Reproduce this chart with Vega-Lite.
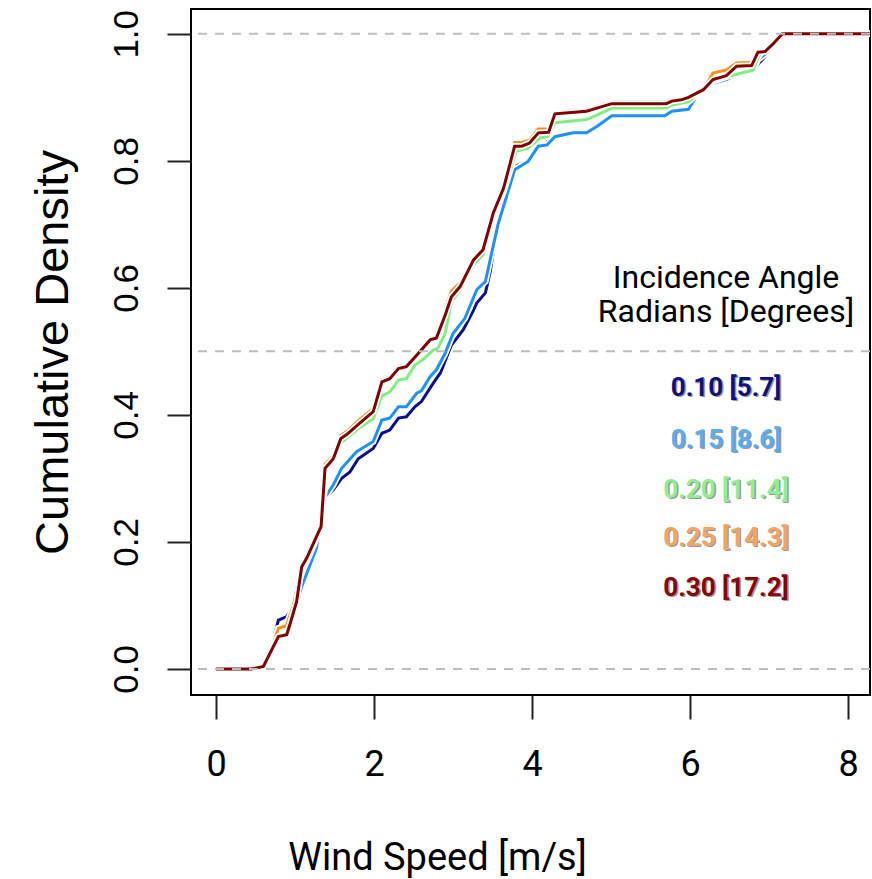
{
"$schema": "https://vega.github.io/schema/vega-lite/v6.json",
"width": 679, "height": 686,
"autosize": "none",
"padding": {"left": 191, "top": 9, "right": 2, "bottom": 184},
"background": "white",
"config": {
  "view": {"stroke": "black", "strokeWidth": 2},
  "axis": {"grid": false, "domain": false, "tickColor": "#222", "tickWidth": 2, "tickSize": 24, "labelColor": "black", "titleColor": "black"}
},
"datasets": {
"cdf": [
{"angle":"0.10","wind":0,"cdf":0},{"angle":"0.10","wind":0.45,"cdf":0},{"angle":"0.10","wind":0.6,"cdf":0.008},{"angle":"0.10","wind":0.68,"cdf":0.025},{"angle":"0.10","wind":0.79,"cdf":0.077},{"angle":"0.10","wind":0.89,"cdf":0.082},{"angle":"0.10","wind":0.98,"cdf":0.098},{"angle":"0.10","wind":1.085,"cdf":0.14},{"angle":"0.10","wind":1.27,"cdf":0.19},{"angle":"0.10","wind":1.38,"cdf":0.269},{"angle":"0.10","wind":1.485,"cdf":0.282},{"angle":"0.10","wind":1.59,"cdf":0.3},{"angle":"0.10","wind":1.695,"cdf":0.31},{"angle":"0.10","wind":1.8,"cdf":0.331},{"angle":"0.10","wind":1.99,"cdf":0.347},{"angle":"0.10","wind":2.1,"cdf":0.371},{"angle":"0.10","wind":2.2,"cdf":0.376},{"angle":"0.10","wind":2.31,"cdf":0.395},{"angle":"0.10","wind":2.41,"cdf":0.397},{"angle":"0.10","wind":2.52,"cdf":0.413},{"angle":"0.10","wind":2.6,"cdf":0.421},{"angle":"0.10","wind":2.75,"cdf":0.45},{"angle":"0.10","wind":2.84,"cdf":0.466},{"angle":"0.10","wind":2.98,"cdf":0.51},{"angle":"0.10","wind":3.13,"cdf":0.534},{"angle":"0.10","wind":3.26,"cdf":0.565},{"angle":"0.10","wind":3.3,"cdf":0.576},{"angle":"0.10","wind":3.41,"cdf":0.592},{"angle":"0.10","wind":3.47,"cdf":0.625},{"angle":"0.10","wind":3.57,"cdf":0.702},{"angle":"0.10","wind":3.78,"cdf":0.791},{"angle":"0.10","wind":3.93,"cdf":0.799},{"angle":"0.10","wind":4.08,"cdf":0.823},{"angle":"0.10","wind":4.19,"cdf":0.828},{"angle":"0.10","wind":4.27,"cdf":0.86},{"angle":"0.10","wind":4.69,"cdf":0.866},{"angle":"0.10","wind":4.82,"cdf":0.872},{"angle":"0.10","wind":4.92,"cdf":0.883},{"angle":"0.10","wind":5.01,"cdf":0.888},{"angle":"0.10","wind":5.7,"cdf":0.888},{"angle":"0.10","wind":5.98,"cdf":0.896},{"angle":"0.10","wind":6.17,"cdf":0.912},{"angle":"0.10","wind":6.29,"cdf":0.925},{"angle":"0.10","wind":6.46,"cdf":0.927},{"angle":"0.10","wind":6.59,"cdf":0.933},{"angle":"0.10","wind":6.78,"cdf":0.943},{"angle":"0.10","wind":6.93,"cdf":0.961},{"angle":"0.10","wind":7.05,"cdf":0.98},{"angle":"0.10","wind":7.17,"cdf":1},{"angle":"0.10","wind":8.5,"cdf":1},
{"angle":"0.15","wind":0,"cdf":0},{"angle":"0.15","wind":0.45,"cdf":0},{"angle":"0.15","wind":0.6,"cdf":0.009},{"angle":"0.15","wind":0.68,"cdf":0.02},{"angle":"0.15","wind":0.8,"cdf":0.06},{"angle":"0.15","wind":0.9,"cdf":0.07},{"angle":"0.15","wind":1.0,"cdf":0.095},{"angle":"0.15","wind":1.085,"cdf":0.13},{"angle":"0.15","wind":1.27,"cdf":0.19},{"angle":"0.15","wind":1.38,"cdf":0.27},{"angle":"0.15","wind":1.485,"cdf":0.29},{"angle":"0.15","wind":1.59,"cdf":0.316},{"angle":"0.15","wind":1.78,"cdf":0.342},{"angle":"0.15","wind":1.82,"cdf":0.345},{"angle":"0.15","wind":1.99,"cdf":0.358},{"angle":"0.15","wind":2.1,"cdf":0.392},{"angle":"0.15","wind":2.2,"cdf":0.395},{"angle":"0.15","wind":2.31,"cdf":0.413},{"angle":"0.15","wind":2.41,"cdf":0.413},{"angle":"0.15","wind":2.54,"cdf":0.434},{"angle":"0.15","wind":2.6,"cdf":0.438},{"angle":"0.15","wind":2.71,"cdf":0.46},{"angle":"0.15","wind":2.79,"cdf":0.471},{"angle":"0.15","wind":2.9,"cdf":0.497},{"angle":"0.15","wind":3.0,"cdf":0.528},{"angle":"0.15","wind":3.15,"cdf":0.552},{"angle":"0.15","wind":3.3,"cdf":0.597},{"angle":"0.15","wind":3.41,"cdf":0.61},{"angle":"0.15","wind":3.47,"cdf":0.644},{"angle":"0.15","wind":3.57,"cdf":0.7},{"angle":"0.15","wind":3.78,"cdf":0.786},{"angle":"0.15","wind":3.95,"cdf":0.799},{"angle":"0.15","wind":4.08,"cdf":0.823},{"angle":"0.15","wind":4.19,"cdf":0.825},{"angle":"0.15","wind":4.29,"cdf":0.838},{"angle":"0.15","wind":4.52,"cdf":0.844},{"angle":"0.15","wind":4.69,"cdf":0.844},{"angle":"0.15","wind":4.82,"cdf":0.854},{"angle":"0.15","wind":5.01,"cdf":0.871},{"angle":"0.15","wind":5.68,"cdf":0.871},{"angle":"0.15","wind":5.77,"cdf":0.878},{"angle":"0.15","wind":5.98,"cdf":0.881},{"angle":"0.15","wind":6.08,"cdf":0.901},{"angle":"0.15","wind":6.17,"cdf":0.912},{"angle":"0.15","wind":6.29,"cdf":0.922},{"angle":"0.15","wind":6.46,"cdf":0.928},{"angle":"0.15","wind":6.59,"cdf":0.935},{"angle":"0.15","wind":6.78,"cdf":0.944},{"angle":"0.15","wind":6.86,"cdf":0.959},{"angle":"0.15","wind":6.97,"cdf":0.97},{"angle":"0.15","wind":7.17,"cdf":1},{"angle":"0.15","wind":8.5,"cdf":1},
{"angle":"0.20","wind":0,"cdf":0},{"angle":"0.20","wind":0.45,"cdf":0},{"angle":"0.20","wind":0.6,"cdf":0.006},{"angle":"0.20","wind":0.7,"cdf":0.03},{"angle":"0.20","wind":0.79,"cdf":0.064},{"angle":"0.20","wind":0.89,"cdf":0.068},{"angle":"0.20","wind":0.98,"cdf":0.095},{"angle":"0.20","wind":1.085,"cdf":0.155},{"angle":"0.20","wind":1.15,"cdf":0.17},{"angle":"0.20","wind":1.27,"cdf":0.205},{"angle":"0.20","wind":1.33,"cdf":0.222},{"angle":"0.20","wind":1.4,"cdf":0.32},{"angle":"0.20","wind":1.485,"cdf":0.33},{"angle":"0.20","wind":1.58,"cdf":0.356},{"angle":"0.20","wind":1.82,"cdf":0.38},{"angle":"0.20","wind":1.99,"cdf":0.394},{"angle":"0.20","wind":2.1,"cdf":0.43},{"angle":"0.20","wind":2.2,"cdf":0.436},{"angle":"0.20","wind":2.31,"cdf":0.455},{"angle":"0.20","wind":2.41,"cdf":0.457},{"angle":"0.20","wind":2.52,"cdf":0.479},{"angle":"0.20","wind":2.62,"cdf":0.487},{"angle":"0.20","wind":2.75,"cdf":0.502},{"angle":"0.20","wind":2.81,"cdf":0.505},{"angle":"0.20","wind":2.9,"cdf":0.528},{"angle":"0.20","wind":2.98,"cdf":0.578},{"angle":"0.20","wind":3.09,"cdf":0.597},{"angle":"0.20","wind":3.25,"cdf":0.635},{"angle":"0.20","wind":3.38,"cdf":0.652},{"angle":"0.20","wind":3.5,"cdf":0.71},{"angle":"0.20","wind":3.64,"cdf":0.752},{"angle":"0.20","wind":3.8,"cdf":0.815},{"angle":"0.20","wind":3.95,"cdf":0.82},{"angle":"0.20","wind":4.1,"cdf":0.836},{"angle":"0.20","wind":4.2,"cdf":0.838},{"angle":"0.20","wind":4.29,"cdf":0.86},{"angle":"0.20","wind":4.69,"cdf":0.865},{"angle":"0.20","wind":4.82,"cdf":0.872},{"angle":"0.20","wind":5.01,"cdf":0.883},{"angle":"0.20","wind":5.7,"cdf":0.883},{"angle":"0.20","wind":5.77,"cdf":0.888},{"angle":"0.20","wind":5.98,"cdf":0.893},{"angle":"0.20","wind":6.17,"cdf":0.912},{"angle":"0.20","wind":6.29,"cdf":0.925},{"angle":"0.20","wind":6.46,"cdf":0.932},{"angle":"0.20","wind":6.8,"cdf":0.943},{"angle":"0.20","wind":6.88,"cdf":0.967},{"angle":"0.20","wind":7.05,"cdf":0.988},{"angle":"0.20","wind":7.17,"cdf":1},{"angle":"0.20","wind":8.5,"cdf":1},
{"angle":"0.25","wind":0,"cdf":0},{"angle":"0.25","wind":0.45,"cdf":0},{"angle":"0.25","wind":0.6,"cdf":0.006},{"angle":"0.25","wind":0.7,"cdf":0.03},{"angle":"0.25","wind":0.79,"cdf":0.064},{"angle":"0.25","wind":0.89,"cdf":0.068},{"angle":"0.25","wind":0.98,"cdf":0.1},{"angle":"0.25","wind":1.085,"cdf":0.165},{"angle":"0.25","wind":1.15,"cdf":0.178},{"angle":"0.25","wind":1.27,"cdf":0.212},{"angle":"0.25","wind":1.33,"cdf":0.228},{"angle":"0.25","wind":1.38,"cdf":0.322},{"angle":"0.25","wind":1.485,"cdf":0.336},{"angle":"0.25","wind":1.58,"cdf":0.368},{"angle":"0.25","wind":1.66,"cdf":0.374},{"angle":"0.25","wind":1.82,"cdf":0.393},{"angle":"0.25","wind":1.99,"cdf":0.41},{"angle":"0.25","wind":2.1,"cdf":0.455},{"angle":"0.25","wind":2.2,"cdf":0.46},{"angle":"0.25","wind":2.31,"cdf":0.476},{"angle":"0.25","wind":2.41,"cdf":0.478},{"angle":"0.25","wind":2.54,"cdf":0.496},{"angle":"0.25","wind":2.71,"cdf":0.52},{"angle":"0.25","wind":2.79,"cdf":0.523},{"angle":"0.25","wind":2.9,"cdf":0.565},{"angle":"0.25","wind":2.98,"cdf":0.595},{"angle":"0.25","wind":3.09,"cdf":0.608},{"angle":"0.25","wind":3.28,"cdf":0.65},{"angle":"0.25","wind":3.41,"cdf":0.665},{"angle":"0.25","wind":3.51,"cdf":0.722},{"angle":"0.25","wind":3.64,"cdf":0.762},{"angle":"0.25","wind":3.78,"cdf":0.829},{"angle":"0.25","wind":3.87,"cdf":0.829},{"angle":"0.25","wind":3.97,"cdf":0.833},{"angle":"0.25","wind":4.08,"cdf":0.85},{"angle":"0.25","wind":4.21,"cdf":0.85},{"angle":"0.25","wind":4.29,"cdf":0.873},{"angle":"0.25","wind":4.5,"cdf":0.876},{"angle":"0.25","wind":4.69,"cdf":0.879},{"angle":"0.25","wind":4.82,"cdf":0.886},{"angle":"0.25","wind":5.01,"cdf":0.892},{"angle":"0.25","wind":5.7,"cdf":0.892},{"angle":"0.25","wind":5.77,"cdf":0.896},{"angle":"0.25","wind":5.98,"cdf":0.9},{"angle":"0.25","wind":6.17,"cdf":0.911},{"angle":"0.25","wind":6.29,"cdf":0.938},{"angle":"0.25","wind":6.46,"cdf":0.943},{"angle":"0.25","wind":6.59,"cdf":0.954},{"angle":"0.25","wind":6.78,"cdf":0.955},{"angle":"0.25","wind":6.86,"cdf":0.972},{"angle":"0.25","wind":6.97,"cdf":0.975},{"angle":"0.25","wind":7.17,"cdf":1},{"angle":"0.25","wind":8.5,"cdf":1},
{"angle":"0.30","wind":0,"cdf":0},{"angle":"0.30","wind":0.45,"cdf":0},{"angle":"0.30","wind":0.6,"cdf":0.004},{"angle":"0.30","wind":0.705,"cdf":0.03},{"angle":"0.30","wind":0.79,"cdf":0.051},{"angle":"0.30","wind":0.895,"cdf":0.054},{"angle":"0.30","wind":0.94,"cdf":0.072},{"angle":"0.30","wind":1.02,"cdf":0.106},{"angle":"0.30","wind":1.085,"cdf":0.161},{"angle":"0.30","wind":1.15,"cdf":0.175},{"angle":"0.30","wind":1.27,"cdf":0.208},{"angle":"0.30","wind":1.33,"cdf":0.224},{"angle":"0.30","wind":1.38,"cdf":0.316},{"angle":"0.30","wind":1.485,"cdf":0.331},{"angle":"0.30","wind":1.58,"cdf":0.363},{"angle":"0.30","wind":1.655,"cdf":0.369},{"angle":"0.30","wind":1.82,"cdf":0.387},{"angle":"0.30","wind":1.99,"cdf":0.405},{"angle":"0.30","wind":2.1,"cdf":0.452},{"angle":"0.30","wind":2.2,"cdf":0.457},{"angle":"0.30","wind":2.31,"cdf":0.473},{"angle":"0.30","wind":2.41,"cdf":0.476},{"angle":"0.30","wind":2.54,"cdf":0.494},{"angle":"0.30","wind":2.71,"cdf":0.518},{"angle":"0.30","wind":2.79,"cdf":0.521},{"angle":"0.30","wind":2.9,"cdf":0.557},{"angle":"0.30","wind":2.98,"cdf":0.586},{"angle":"0.30","wind":3.09,"cdf":0.602},{"angle":"0.30","wind":3.26,"cdf":0.644},{"angle":"0.30","wind":3.38,"cdf":0.66},{"angle":"0.30","wind":3.51,"cdf":0.718},{"angle":"0.30","wind":3.64,"cdf":0.757},{"angle":"0.30","wind":3.78,"cdf":0.823},{"angle":"0.30","wind":3.87,"cdf":0.823},{"angle":"0.30","wind":3.97,"cdf":0.828},{"angle":"0.30","wind":4.08,"cdf":0.844},{"angle":"0.30","wind":4.21,"cdf":0.845},{"angle":"0.30","wind":4.29,"cdf":0.874},{"angle":"0.30","wind":4.5,"cdf":0.876},{"angle":"0.30","wind":4.69,"cdf":0.878},{"angle":"0.30","wind":4.82,"cdf":0.883},{"angle":"0.30","wind":5.01,"cdf":0.89},{"angle":"0.30","wind":5.7,"cdf":0.89},{"angle":"0.30","wind":5.77,"cdf":0.894},{"angle":"0.30","wind":5.89,"cdf":0.896},{"angle":"0.30","wind":5.98,"cdf":0.9},{"angle":"0.30","wind":6.17,"cdf":0.912},{"angle":"0.30","wind":6.29,"cdf":0.928},{"angle":"0.30","wind":6.46,"cdf":0.934},{"angle":"0.30","wind":6.59,"cdf":0.949},{"angle":"0.30","wind":6.78,"cdf":0.95},{"angle":"0.30","wind":6.86,"cdf":0.971},{"angle":"0.30","wind":6.95,"cdf":0.972},{"angle":"0.30","wind":7.05,"cdf":0.984},{"angle":"0.30","wind":7.17,"cdf":1},{"angle":"0.30","wind":8.5,"cdf":1}
],
"legend": [
{"angle":"0.10","label":"0.10 [5.7]"},
{"angle":"0.15","label":"0.15 [8.6]"},
{"angle":"0.20","label":"0.20 [11.4]"},
{"angle":"0.25","label":"0.25 [14.3]"},
{"angle":"0.30","label":"0.30 [17.2]"}
],
"refs": [{"cdf":0},{"cdf":0.5},{"cdf":1}]
},
"layer": [
{
 "data": {"name": "cdf"},
 "transform": [{"filter": "datum.angle == '0.10'"}],
 "encoding": {
  "x": {"field": "wind", "type": "quantitative", "scale": {"domain": [-0.3165, 8.278], "nice": false, "zero": false},
        "axis": {"values": [0, 2, 4, 6, 8], "format": "d", "title": "Wind Speed [m/s]", "labelFont": "Roboto", "labelFontSize": 36, "labelPadding": 28,
                 "titleFont": "Roboto", "titleFontSize": 38, "titleFontWeight": "normal", "titleX": 246, "titleY": 174, "titleBaseline": "alphabetic", "titleAlign": "center"}},
  "y": {"field": "cdf", "type": "quantitative", "scale": {"domain": [-0.041, 1.039], "nice": false, "zero": false},
        "axis": {"values": [0, 0.2, 0.4, 0.6, 0.8, 1.0], "format": ".1f", "title": "Cumulative Density", "labelAngle": -90, "labelAlign": "center", "labelBaseline": "alphabetic",
                 "labelFont": "Liberation Sans", "labelFontSize": 35, "labelPadding": 30,
                 "titleFont": "Liberation Sans", "titleFontSize": 47, "titleFontWeight": "normal", "titleAngle": -90, "titleX": -124, "titleY": 343, "titleBaseline": "alphabetic", "titleAlign": "center"}}
 },
 "layer": [
  {"mark": {"type": "line", "color": "white", "strokeWidth": 6.5, "clip": true}},
  {"mark": {"type": "line", "color": "#0c0c8e", "strokeWidth": 3, "clip": true}}
 ]
},
{
 "data": {"name": "cdf"},
 "transform": [{"filter": "datum.angle == '0.15'"}],
 "encoding": {"x": {"field": "wind", "type": "quantitative"}, "y": {"field": "cdf", "type": "quantitative"}},
 "layer": [
  {"mark": {"type": "line", "color": "white", "strokeWidth": 6.5, "clip": true}},
  {"mark": {"type": "line", "color": "#1e90ff", "strokeWidth": 3, "clip": true}}
 ]
},
{
 "data": {"name": "cdf"},
 "transform": [{"filter": "datum.angle == '0.20'"}],
 "encoding": {"x": {"field": "wind", "type": "quantitative"}, "y": {"field": "cdf", "type": "quantitative"}},
 "layer": [
  {"mark": {"type": "line", "color": "white", "strokeWidth": 6.5, "clip": true}},
  {"mark": {"type": "line", "color": "#80ee80", "strokeWidth": 3, "clip": true}}
 ]
},
{
 "data": {"name": "cdf"},
 "transform": [{"filter": "datum.angle == '0.25'"}],
 "encoding": {"x": {"field": "wind", "type": "quantitative"}, "y": {"field": "cdf", "type": "quantitative"}},
 "layer": [
  {"mark": {"type": "line", "color": "white", "strokeWidth": 6.5, "clip": true}},
  {"mark": {"type": "line", "color": "#ff8c1a", "strokeWidth": 3, "clip": true}}
 ]
},
{
 "data": {"name": "cdf"},
 "transform": [{"filter": "datum.angle == '0.30'"}],
 "encoding": {"x": {"field": "wind", "type": "quantitative"}, "y": {"field": "cdf", "type": "quantitative"}},
 "layer": [
  {"mark": {"type": "line", "color": "white", "strokeWidth": 6.5, "clip": true}},
  {"mark": {"type": "line", "color": "#800000", "strokeWidth": 3, "clip": true}}
 ]
},
{
 "data": {"name": "refs"},
 "mark": {"type": "rule", "color": "#bdbdbd", "strokeWidth": 2, "strokeDash": [9, 8]},
 "encoding": {"y": {"field": "cdf", "type": "quantitative"}}
},
{
 "data": {"values": [{"t": "Incidence Angle"}]},
 "mark": {"type": "text", "font": "Roboto", "fontSize": 32, "color": "black", "baseline": "alphabetic", "align": "center"},
 "encoding": {"x": {"datum": 6.456, "type": "quantitative"}, "y": {"datum": 0.6, "type": "quantitative"}, "text": {"field": "t"}}
},
{
 "data": {"values": [{"t": "Radians [Degrees]"}]},
 "mark": {"type": "text", "font": "Roboto", "fontSize": 32, "color": "black", "baseline": "alphabetic", "align": "center"},
 "encoding": {"x": {"datum": 6.456, "type": "quantitative"}, "y": {"datum": 0.546, "type": "quantitative"}, "text": {"field": "t"}}
},
{
 "data": {"name": "legend"},
 "transform": [{"filter": "datum.angle == '0.10'"}],
 "encoding": {"x": {"datum": 6.456, "type": "quantitative"}, "y": {"datum": 0.4425, "type": "quantitative"}, "text": {"field": "label"}},
 "layer": [
  {"mark": {"type": "text", "font": "Roboto", "fontWeight": "bold", "fontSize": 26, "baseline": "middle", "align": "center", "color": "#9a9a9a", "dx": 1.5, "dy": 1.5}},
  {"mark": {"type": "text", "font": "Roboto", "fontWeight": "bold", "fontSize": 26, "baseline": "middle", "align": "center", "color": "#10107e"}}
 ]
},
{
 "data": {"name": "legend"},
 "transform": [{"filter": "datum.angle == '0.15'"}],
 "encoding": {"x": {"datum": 6.456, "type": "quantitative"}, "y": {"datum": 0.3606, "type": "quantitative"}, "text": {"field": "label"}},
 "layer": [
  {"mark": {"type": "text", "font": "Roboto", "fontWeight": "bold", "fontSize": 26, "baseline": "middle", "align": "center", "color": "#9a9a9a", "dx": 1.5, "dy": 1.5}},
  {"mark": {"type": "text", "font": "Roboto", "fontWeight": "bold", "fontSize": 26, "baseline": "middle", "align": "center", "color": "#5cacee"}}
 ]
},
{
 "data": {"name": "legend"},
 "transform": [{"filter": "datum.angle == '0.20'"}],
 "encoding": {"x": {"datum": 6.456, "type": "quantitative"}, "y": {"datum": 0.2819, "type": "quantitative"}, "text": {"field": "label"}},
 "layer": [
  {"mark": {"type": "text", "font": "Roboto", "fontWeight": "bold", "fontSize": 26, "baseline": "middle", "align": "center", "color": "#9a9a9a", "dx": 1.5, "dy": 1.5}},
  {"mark": {"type": "text", "font": "Roboto", "fontWeight": "bold", "fontSize": 26, "baseline": "middle", "align": "center", "color": "#90ee90"}}
 ]
},
{
 "data": {"name": "legend"},
 "transform": [{"filter": "datum.angle == '0.25'"}],
 "encoding": {"x": {"datum": 6.456, "type": "quantitative"}, "y": {"datum": 0.2063, "type": "quantitative"}, "text": {"field": "label"}},
 "layer": [
  {"mark": {"type": "text", "font": "Roboto", "fontWeight": "bold", "fontSize": 26, "baseline": "middle", "align": "center", "color": "#9a9a9a", "dx": 1.5, "dy": 1.5}},
  {"mark": {"type": "text", "font": "Roboto", "fontWeight": "bold", "fontSize": 26, "baseline": "middle", "align": "center", "color": "#f4a460"}}
 ]
},
{
 "data": {"name": "legend"},
 "transform": [{"filter": "datum.angle == '0.30'"}],
 "encoding": {"x": {"datum": 6.456, "type": "quantitative"}, "y": {"datum": 0.1276, "type": "quantitative"}, "text": {"field": "label"}},
 "layer": [
  {"mark": {"type": "text", "font": "Roboto", "fontWeight": "bold", "fontSize": 26, "baseline": "middle", "align": "center", "color": "#9a9a9a", "dx": 1.5, "dy": 1.5}},
  {"mark": {"type": "text", "font": "Roboto", "fontWeight": "bold", "fontSize": 26, "baseline": "middle", "align": "center", "color": "#8b0000"}}
 ]
}
]
}
